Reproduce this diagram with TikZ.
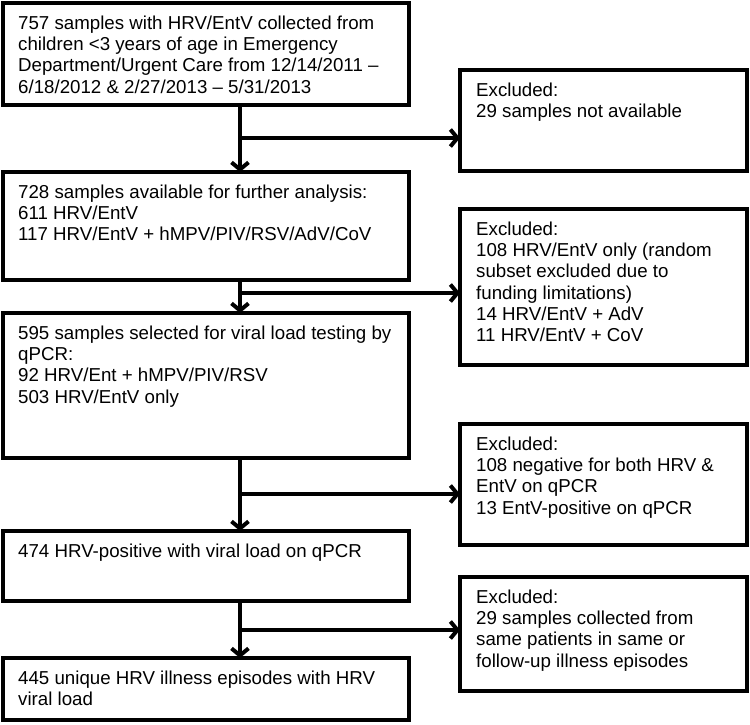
\documentclass[tikz,border=0pt]{standalone}
\usepackage{fontspec}
\setmainfont{Liberation Sans}
\usetikzlibrary{arrows.meta}
\begin{document}
\begin{tikzpicture}[x=1pt,y=-1pt,
  box/.style={draw, line width=4pt, inner sep=0pt, outer sep=0pt, anchor=north west},
  txt/.style={inner sep=0pt, anchor=north west, align=left, font=\fontsize{18.7}{21.3}\selectfont},
  arr/.style={line width=4pt, -{Straight Barb[length=7pt,width=17pt]}}]
\useasboundingbox (0,0) rectangle (750,724);
% main column boxes
\node[box, minimum width=406pt, minimum height=102pt] (b1) at (3,3) {};
\node[box, minimum width=406pt, minimum height=108pt] (b2) at (3,172) {};
\node[box, minimum width=406pt, minimum height=145pt] (b3) at (3,313) {};
\node[box, minimum width=406pt, minimum height=70pt] (b4) at (3,531) {};
\node[box, minimum width=406pt, minimum height=62pt] (b5) at (3,658) {};
% exclusion boxes
\node[box, minimum width=287pt, minimum height=101pt] (r1) at (460,70) {};
\node[box, minimum width=287pt, minimum height=156pt] (r2) at (460,209) {};
\node[box, minimum width=287pt, minimum height=121pt] (r3) at (460,424) {};
\node[box, minimum width=287pt, minimum height=114pt] (r4) at (460,577) {};
% texts
\node[txt] (t1) at (18,15.5) {757 samples with HRV/EntV collected from\\children <3 years of age in Emergency\\Department/Urgent Care from 12/14/2011 –\\6/18/2012 \& 2/27/2013 – 5/31/2013};
\node[txt] (t2) at (18,184.5) {728 samples available for further analysis:\\611 HRV/EntV\\117 HRV/EntV + hMPV/PIV/RSV/AdV/CoV};
\node[txt] (t3) at (18,325.5) {595 samples selected for viral load testing by\\qPCR:\\92 HRV/Ent + hMPV/PIV/RSV\\503 HRV/EntV only};
\node[txt] (t4) at (18,543.5) {474 HRV-positive with viral load on qPCR};
\node[txt] (t5) at (18,670.5) {445 unique HRV illness episodes with HRV\\viral load};
\node[txt] (u1) at (476,82.5) {Excluded:\\29 samples not available};
\node[txt] (u2) at (476,221.5) {Excluded:\\108 HRV/EntV only (random\\subset excluded due to\\funding limitations)\\14 HRV/EntV + AdV\\11 HRV/EntV + CoV};
\node[txt] (u3) at (476,436.5) {Excluded:\\108 negative for both HRV \&\\EntV on qPCR\\13 EntV-positive on qPCR};
\node[txt] (u4) at (476,589.5) {Excluded:\\29 samples collected from\\same patients in same or\\follow-up illness episodes};
% junction points on the main line
\coordinate (ax) at (240,0);
\coordinate (j1) at (240,138);
\coordinate (j2) at (240,293);
\coordinate (j3) at (240,494);
\coordinate (j4) at (240,630);
% connectors
\draw[arr] (b1.south -| ax) -- (b2.north -| ax);
\draw[arr] (b2.south -| ax) -- (b3.north -| ax);
\draw[arr] (b3.south -| ax) -- (b4.north -| ax);
\draw[arr] (b4.south -| ax) -- (b5.north -| ax);
\draw[arr] (j1) -- (j1 -| r1.west);
\draw[arr] (j2) -- (j2 -| r2.west);
\draw[arr] (j3) -- (j3 -| r3.west);
\draw[arr] (j4) -- (j4 -| r4.west);
\end{tikzpicture}
\end{document}
